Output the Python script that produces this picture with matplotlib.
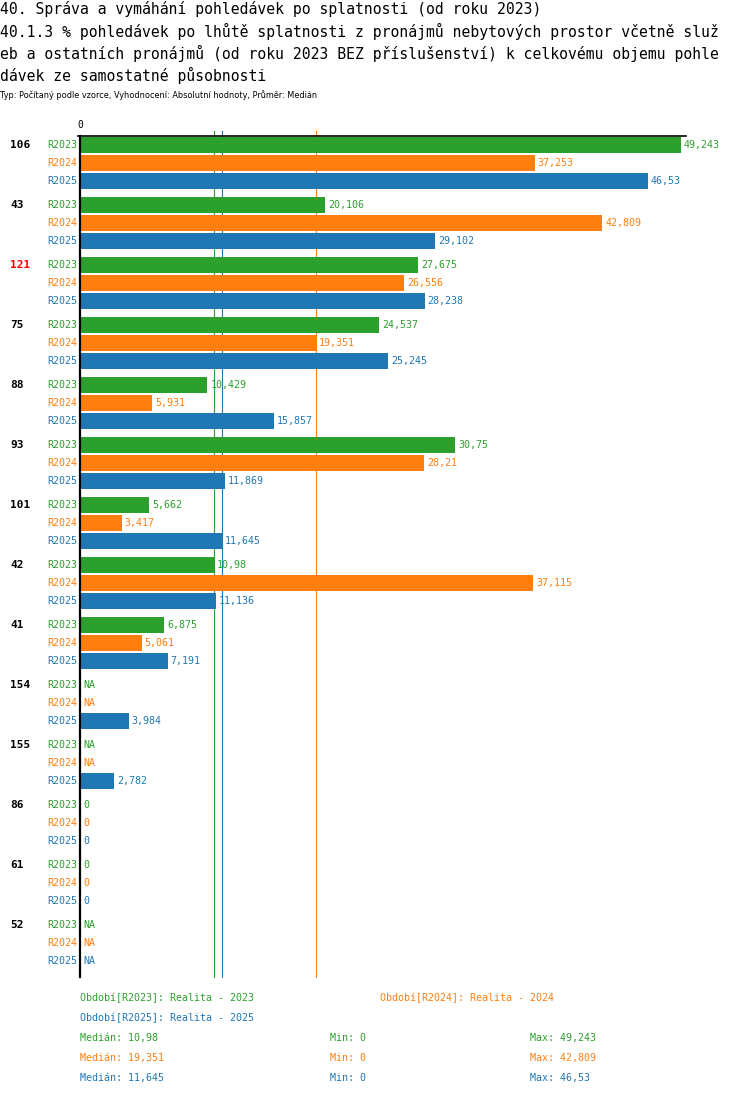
import numpy as np
import matplotlib.pyplot as plt

# Data
groups = ['106', '43', '121', '75', '88', '93', '101', '42', '41', '154', '155', '86', '61', '52']
group_colors = ['black', 'black', 'red'] + ['black'] * 11
series = ['R2023', 'R2024', 'R2025']
colors = ['#2ca02c', '#ff7f0e', '#1f77b4']
nan = np.nan
r2023 = [49.243, 20.106, 27.675, 24.537, 10.429, 30.75, 5.662, 10.98, 6.875, nan, nan, 0, 0, nan]
r2024 = [37.253, 42.809, 26.556, 19.351, 5.931, 28.21, 3.417, 37.115, 5.061, nan, nan, 0, 0, nan]
r2025 = [46.53, 29.102, 28.238, 25.245, 15.857, 11.869, 11.645, 11.136, 7.191, 3.984, 2.782, 0, 0, nan]
values = [r2023, r2024, r2025]
medians = ['10,98', '19,351', '11,645']
mins = ['0', '0', '0']
maxs = ['49,243', '42,809', '46,53']
legend = ['Období[R2023]: Realita - 2023', 'Období[R2024]: Realita - 2024', 'Období[R2025]: Realita - 2025']

mono = 'DejaVu Sans Mono'
W, H = 750, 1096
fig = plt.figure(figsize=(W / 100, H / 100), dpi=100)

def fx(px):
    return px / W

def fy(py):
    return 1 - py / H

# Titulky
fig.text(fx(0), fy(9), '40. Správa a vymáhání pohledávek po splatnosti (od roku 2023)',
         family=mono, fontsize=10.6, va='center', ha='left')
title2 = ['40.1.3 % pohledávek po lhůtě splatnosti z pronájmů nebytových prostor včetně služ',
          'eb a ostatních pronájmů (od roku 2023 BEZ příslušenství) k celkovému objemu pohle',
          'dávek ze samostatné působnosti']
for i, t in enumerate(title2):
    fig.text(fx(0), fy(31 + 22 * i), t, family=mono, fontsize=10.6, va='center', ha='left')
fig.text(fx(0), fy(95), 'Typ: Počítaný podle vzorce, Vyhodnocení: Absolutní hodnoty, Průměr: Medián',
         family='DejaVu Sans', fontsize=5.9, va='center', ha='left')

# Osy: 0 na x=80 px, 12.205 px na jednotku
left, right, top, bottom = 80, 686, 136, 977
scale = 12.205
ax = fig.add_axes([fx(left), fy(bottom), fx(right - left), (bottom - top) / H])
ax.set_xlim(0, (right - left) / scale)
ax.set_ylim(bottom - 145, top - 145)
ax.axis('off')

pos = np.arange(len(groups)) * 60.0
for j in range(3):
    ypos = pos + j * 18
    vals = np.array(values[j], dtype=float)
    ax.barh(ypos, np.nan_to_num(vals), height=16, color=colors[j], zorder=3)
    for y, v in zip(ypos, vals):
        if np.isnan(v):
            txt, x = 'NA', 0
        else:
            txt, x = ('%g' % v).replace('.', ','), v
        ax.text(x + 3 / scale, y, txt, color=colors[j], family=mono, fontsize=7.2,
                va='center', ha='left', zorder=4)
        ax.text(-3 / scale, y, series[j], color=colors[j], family=mono, fontsize=7.2,
                va='center', ha='right', zorder=4)

for g, c, y in zip(groups, group_colors, pos):
    ax.text(-70 / scale, y, g, color=c, family=mono, fontsize=8, fontweight='bold',
            va='center', ha='left')

# Mediánové čáry
for j in range(3):
    m = float(medians[j].replace(',', '.'))
    ax.plot([m, m], [top - 145 - 5, bottom - 145], color=colors[j], lw=0.8,
            zorder=1, clip_on=False)

# Osa
ax.plot([0, 0], [top - 145, bottom - 145], color='black', lw=1.6, zorder=5, clip_on=False)
ax.plot([-2 / scale, (right - left) / scale], [top - 145, top - 145], color='black',
        lw=1.2, zorder=5, clip_on=False)
ax.text(0, top - 145 - 6, '0', family=mono, fontsize=7, ha='center', va='bottom')

# Legenda
fig.text(fx(80), fy(998), legend[0], color=colors[0], family=mono, fontsize=7.2, va='center')
fig.text(fx(380), fy(998), legend[1], color=colors[1], family=mono, fontsize=7.2, va='center')
fig.text(fx(80), fy(1018), legend[2], color=colors[2], family=mono, fontsize=7.2, va='center')
for j in range(3):
    y = 1038 + 20 * j
    fig.text(fx(80), fy(y), 'Medián: ' + medians[j], color=colors[j], family=mono, fontsize=7.2, va='center')
    fig.text(fx(330), fy(y), 'Min: ' + mins[j], color=colors[j], family=mono, fontsize=7.2, va='center')
    fig.text(fx(530), fy(y), 'Max: ' + maxs[j], color=colors[j], family=mono, fontsize=7.2, va='center')

fig.savefig('out.png', dpi=100)
